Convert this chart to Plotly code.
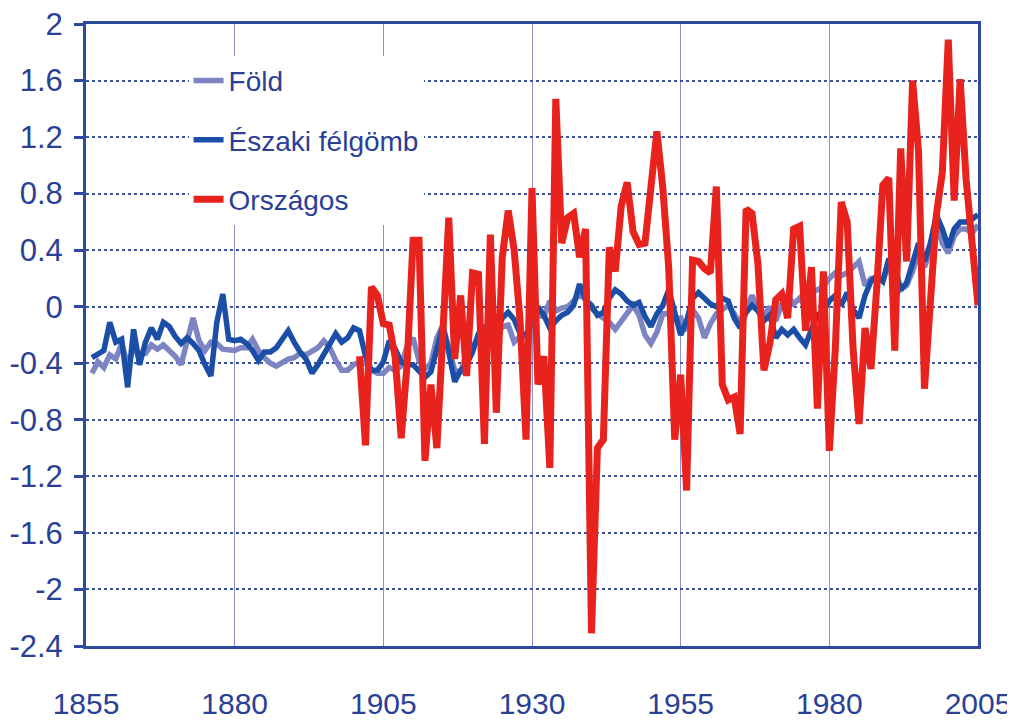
import plotly.graph_objects as go

# ---- data -------------------------------------------------------------
years_nh = list(range(1856, 2006))
foeld = [
    -0.47, -0.39, -0.43, -0.34, -0.37, -0.26, -0.41, -0.30, -0.34, -0.33,   # 1856-1865
    -0.27, -0.30, -0.27, -0.31, -0.35, -0.41, -0.24, -0.08, -0.24, -0.31,   # 1866-1875
    -0.25, -0.26, -0.30, -0.31, -0.31, -0.29, -0.29, -0.23, -0.31, -0.36,   # 1876-1885
    -0.40, -0.42, -0.39, -0.37, -0.36, -0.33, -0.34, -0.31, -0.29, -0.24,   # 1886-1895
    -0.29, -0.38, -0.45, -0.45, -0.41, -0.39, -0.40, -0.45, -0.47, -0.47,   # 1896-1905
    -0.43, -0.45, -0.42, -0.28, -0.22, -0.38, -0.44, -0.40, -0.22, -0.13,   # 1906-1915
    -0.30, -0.45, -0.46, -0.33, -0.27, -0.24, -0.26, -0.24, -0.22, -0.14,   # 1916-1925
    -0.13, -0.25, -0.21, -0.21, -0.12, -0.06, -0.07, 0.04, -0.03, -0.01,    # 1926-1935
    0.00, 0.04, 0.09, 0.05, -0.01, -0.05, -0.08, -0.11, -0.16, -0.10,       # 1936-1945
    -0.05, 0.01, -0.06, -0.20, -0.26, -0.18, -0.05, -0.05, -0.09, -0.08,    # 1946-1955
    -0.17, -0.02, -0.08, -0.22, -0.12, -0.05, -0.02, 0.01, -0.05, -0.12,    # 1956-1965
    -0.02, 0.08, -0.02, -0.06, 0.00, -0.10, 0.02, 0.08, 0.02, 0.06,         # 1966-1975
    0.00, 0.10, 0.12, 0.14, 0.20, 0.24, 0.22, 0.24, 0.28, 0.32,             # 1976-1985
    0.15, 0.20, 0.20, 0.18, 0.30, 0.26, 0.12, 0.15, 0.25, 0.38,             # 1986-1995
    0.28, 0.40, 0.58, 0.45, 0.38, 0.50, 0.55, 0.55, 0.52, 0.58,             # 1996-2005
]
eszaki = [
    -0.36, -0.34, -0.31, -0.11, -0.25, -0.23, -0.57, -0.16, -0.41, -0.25,   # 1856-1865
    -0.15, -0.23, -0.11, -0.14, -0.21, -0.26, -0.22, -0.26, -0.31, -0.41,   # 1866-1875
    -0.49, -0.11, 0.09, -0.23, -0.24, -0.23, -0.26, -0.31, -0.38, -0.32,    # 1876-1885
    -0.32, -0.29, -0.23, -0.17, -0.25, -0.32, -0.37, -0.47, -0.41, -0.33,   # 1886-1895
    -0.25, -0.19, -0.25, -0.22, -0.15, -0.17, -0.35, -0.45, -0.45, -0.39,   # 1896-1905
    -0.24, -0.30, -0.39, -0.41, -0.41, -0.45, -0.50, -0.46, -0.30, -0.14,   # 1906-1915
    -0.32, -0.53, -0.45, -0.41, -0.32, -0.19, -0.15, -0.23, -0.19, -0.08,   # 1916-1925
    -0.04, -0.09, -0.19, -0.20, -0.10, 0.00, -0.06, -0.15, -0.10, -0.06,    # 1926-1935
    -0.04, 0.01, 0.16, 0.05, 0.01, -0.06, -0.04, 0.06, 0.12, 0.09,          # 1936-1945
    0.04, 0.01, 0.03, -0.07, -0.14, -0.05, 0.01, 0.12, -0.04, -0.20,        # 1946-1955
    -0.10, 0.06, 0.10, 0.06, 0.02, 0.00, 0.06, 0.04, -0.08, -0.15,          # 1956-1965
    -0.04, 0.01, -0.03, -0.10, -0.06, -0.22, -0.16, -0.20, -0.16, -0.22,    # 1966-1975
    -0.27, -0.16, -0.06, -0.03, 0.04, 0.08, 0.01, 0.10, -0.02, -0.08,       # 1976-1985
    0.08, 0.18, 0.22, 0.18, 0.34, 0.28, 0.12, 0.17, 0.32, 0.45,             # 1986-1995
    0.32, 0.45, 0.65, 0.55, 0.42, 0.55, 0.60, 0.60, 0.62, 0.65,             # 1996-2005
]
years_hu = list(range(1901, 2006))
orszagos = [
    -0.35, -0.98, 0.14, 0.08, -0.12, -0.13, -0.36, -0.93, -0.40, 0.47,     # 1901-1910
    0.47, -1.09, -0.55, -1.00, -0.20, 0.63, -0.37, 0.08, -0.49, 0.24,      # 1911-1920
    0.23, -0.97, 0.51, -0.75, 0.35, 0.68, 0.40, -0.10, -0.94, 0.84,        # 1921-1930
    -0.55, -0.35, -1.14, 1.47, 0.45, 0.63, 0.66, 0.35, 0.55, -2.31,        # 1931-1940
    -1.00, -0.94, 0.42, 0.25, 0.71, 0.88, 0.53, 0.44, 0.45, 0.90,          # 1941-1950
    1.24, 0.84, 0.27, -0.94, -0.48, -1.30, 0.33, 0.32, 0.27, 0.24,         # 1951-1960
    0.85, -0.55, -0.66, -0.64, -0.90, 0.69, 0.66, 0.30, -0.45, -0.26,      # 1961-1970
    0.05, 0.09, -0.08, 0.55, 0.57, -0.17, 0.28, -0.72, 0.25, -1.02,        # 1971-1980
    -0.30, 0.74, 0.60, -0.30, -0.83, -0.15, -0.44, 0.15, 0.86, 0.91,       # 1981-1990
    -0.31, 1.12, 0.32, 1.60, 1.10, -0.58, 0.10, 0.65, 0.95, 1.89,          # 1991-2000
    0.75, 1.61, 0.90, 0.40, 0.01,                                          # 2001-2005
]
series_names = ["Föld", "Északi félgömb", "Országos"]
x_tickvals = [1855, 1880, 1905, 1930, 1955, 1980, 2005]
x_ticktext = ["1855", "1880", "1905", "1930", "1955", "1980", "2005"]
y_tickvals = [2, 1.6, 1.2, 0.8, 0.4, 0, -0.4, -0.8, -1.2, -1.6, -2, -2.4]
y_ticktext = ["2", "1.6", "1.2", "0.8", "0.4", "0", "-0.4", "-0.8", "-1.2", "-1.6", "-2", "-2.4"]

# ---- style ------------------------------------------------------------
FONT = "Liberation Sans, Arial, sans-serif"
TXT = "#2b3f96"
AX = "#2c4a9e"

fig = go.Figure()
fig.add_trace(go.Scatter(x=years_nh, y=foeld, mode="lines", name=series_names[0],
                         legendgroup="a", line=dict(color="#7c84c2", width=5.5)))
fig.add_trace(go.Scatter(x=years_nh, y=eszaki, mode="lines", name=series_names[1],
                         legendgroup="b", line=dict(color="#1b4ea6", width=5.5)))
fig.add_trace(go.Scatter(x=years_hu, y=orszagos, mode="lines", name=series_names[2],
                         legendgroup="c", line=dict(color="#e8231d", width=7)))

# the page body has an 8px margin, so the figure is sized to fit inside it
fig.update_layout(
    width=1007, height=716,
    margin=dict(l=78, r=37, t=16, b=78, autoexpand=False),
    paper_bgcolor="white", plot_bgcolor="white",
    font=dict(family=FONT, color=TXT),
    showlegend=True,
    legend=dict(x=0.115, y=0.949, xanchor="left", yanchor="top",
                bgcolor="white", font=dict(size=28, color=TXT, family=FONT),
                tracegroupgap=20, traceorder="grouped"),
)
fig.update_xaxes(
    range=[1855, 2005], tickvals=x_tickvals, ticktext=x_ticktext,
    showgrid=True, gridcolor="#8c92c8", gridwidth=1,
    showline=True, linecolor=AX, linewidth=3, mirror=True,
    ticks="", ticklabelstandoff=29, automargin=False, ticklabeloverflow="allow",
    tickfont=dict(size=30, color=TXT, family=FONT), zeroline=False,
)
fig.update_yaxes(
    range=[-2.4, 2], tickvals=y_tickvals, ticktext=y_ticktext,
    showgrid=True, gridcolor="#3d52a3", gridwidth=2, griddash="dot",
    showline=True, linecolor=AX, linewidth=3, mirror=True,
    ticks="outside", ticklen=9, tickwidth=3, tickcolor=AX, ticklabelstandoff=5,
    automargin=False, ticklabeloverflow="allow",
    tickfont=dict(size=31, color=TXT, family=FONT), zeroline=False,
)
fig.write_html("out.html")
